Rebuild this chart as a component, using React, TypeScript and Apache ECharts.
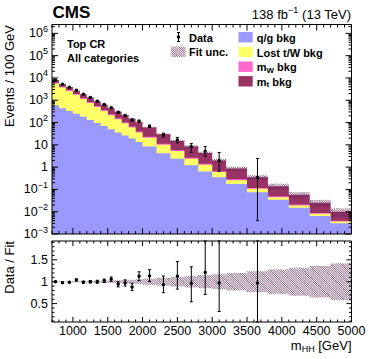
import React, { useEffect, useRef } from "react";
import * as echarts from "echarts";

// ---------------- data ----------------
const binEdges = [700, 800, 900, 1000, 1100, 1200, 1300, 1400, 1500, 1600, 1700, 1800, 1900, 2000, 2200, 2400, 2600, 2800, 3000, 3200, 3500, 3800, 4100, 4400, 4700, 5000];
const qgBkg = [600, 440, 330, 245, 180, 130, 95, 70, 50, 36, 26, 19, 13.5, 8.5, 4.2, 2.4, 1.2, 0.64, 0.35, 0.175, 0.075, 0.034, 0.015, 0.0065, 0.003];
const lostTWBkg = [5000, 3260, 2270, 1505, 970, 630, 405, 260, 165, 104, 66, 41, 22.5, 12.5, 6.0, 2.9, 1.2, 0.64, 0.25, 0.085, 0.031, 0.011, 0.004, 0.0015, 0.0006];
const mWBkg = [560, 370, 260, 175, 115, 76, 50, 33, 21, 14, 9, 6, 3.6, 2.1, 1.0, 0.53, 0.24, 0.13, 0.06, 0.026, 0.011, 0.0045, 0.0019, 0.0008, 0.00036];
const mtBkg = [1840, 1230, 1040, 775, 615, 484, 360, 267, 204, 151, 111, 82, 63.4, 36.9, 18.4, 8.97, 5.86, 2.89, 1.34, 0.584, 0.233, 0.0905, 0.0361, 0.0162, 0.00604];
const fitUncRel = [0.01, 0.01, 0.012, 0.014, 0.016, 0.018, 0.02, 0.025, 0.03, 0.035, 0.04, 0.045, 0.055, 0.07, 0.09, 0.11, 0.13, 0.15, 0.17, 0.2, 0.24, 0.28, 0.32, 0.36, 0.42];

const dataX = [750, 850, 950, 1050, 1150, 1250, 1350, 1450, 1550, 1650, 1750, 1850, 1950, 2100, 2300, 2500, 2700, 2900, 3100, 3650];
const dataY = [8000, 5190, 3860, 2810, 1860, 1320, 910, 643, 466, 287, 206, 130, 116, 68, 27.5, 16.7, 8.2, 5.2, 1.94, 0.34];
const dataErrUp = [96, 74, 62, 54, 43, 37, 30, 25, 21, 18, 15, 12.6, 10.3, 8.4, 5.9, 4.9, 3.2, 3.2, 2.6, 2.1];
const dataErrDown = [96, 74, 62, 54, 43, 37, 30, 25, 21, 18, 15, 11.8, 10.3, 7.8, 5.3, 4.4, 3.6, 2.15, 1.3, 0.336];

const xTickLabels = [1000, 1500, 2000, 2500, 3000, 3500, 4000, 4500, 5000];
const yTickPowers = [-3, -2, -1, 0, 1, 2, 3, 4, 5, 6];
const ratioTickLabels = [0.5, 1, 1.5];

// ---------------- style ----------------
const FONT = '"Liberation Sans", Arial, Helvetica, sans-serif';
const colQG = "#9999ff";
const colLost = "#ffff66";
const colMW = "#ff66cc";
const colMT = "#993366";
const colHatch = "#5e2354";
const HATCH_GAP = 2.2;
const HATCH_LW = 0.75;

const X_MIN = 700, X_MAX = 5000;
const Y_MIN = 1e-3, Y_MAX = 2.5e6;
const R_MIN = 0.08, R_MAX = 1.93;

function hatchLines(x0: number, y0: number, x1: number, y1: number, s: number, style: any) {
  const out: any[] = [];
  if (x1 - x0 <= 0 || y1 - y0 <= 0) return out;
  const cStart = Math.ceil((y0 - x1) / s) * s;
  for (let c = cStart; c <= y1 - x0; c += s) {
    const xa = Math.max(x0, y0 - c);
    const xb = Math.min(x1, y1 - c);
    if (xb > xa) out.push({ type: "line", shape: { x1: xa, y1: xa + c, x2: xb, y2: xb + c }, style });
  }
  return out;
}

function txt(text: string, x: number, y: number, opts: any = {}) {
  const align = opts.align || "left";
  const va = opts.verticalAlign || "middle";
  return {
    type: "text",
    x,
    y,
    rotation: opts.rotation || 0,
    silent: true,
    style: {
      text,
      fill: "#000",
      fontSize: opts.fontSize || 13,
      fontWeight: opts.fontWeight || "normal",
      fontFamily: FONT,
      align,
      verticalAlign: va,
      textAlign: align,
      textVerticalAlign: va,
      rich: opts.rich,
    },
  };
}

function line(x1: number, y1: number, x2: number, y2: number, lw = 1) {
  return { type: "line", shape: { x1, y1, x2, y2 }, style: { stroke: "#000", lineWidth: lw } };
}

function buildOption() {
  const nB = binEdges.length - 1;
  const cum1 = qgBkg.slice();
  const cum2 = cum1.map((v, i) => v + lostTWBkg[i]);
  const cum3 = cum2.map((v, i) => v + mWBkg[i]);
  const cum4 = cum3.map((v, i) => v + mtBkg[i]);
  const layers = [
    { cum: cum4, color: colMT },
    { cum: cum3, color: colMW },
    { cum: cum2, color: colLost },
    { cum: cum1, color: colQG },
  ];
  const binOf = (x: number) => {
    for (let i = 0; i < nB; i++) if (x >= binEdges[i] && x < binEdges[i + 1]) return i;
    return nB - 1;
  };
  const clampR = (v: number) => Math.max(R_MIN, Math.min(R_MAX, v));
  const hatchStyle = { stroke: colHatch, lineWidth: HATCH_LW };

  const supRich = { sup: { fontSize: 9, fontFamily: FONT, padding: [0, 0, 9, 0] } };
  const subRich = { sub: { fontSize: 8, fontFamily: FONT, fontWeight: "bold", padding: [6, 0, 0, 0] } };
  const subRichN = { sub: { fontSize: 9, fontFamily: FONT, padding: [7, 0, 0, 0] } };

  const stackSeries = {
    type: "custom",
    xAxisIndex: 0,
    yAxisIndex: 0,
    z: 1,
    silent: true,
    data: layers.map((_, k) => [1000, 1, k]),
    renderItem: (params: any, api: any) => {
      const k = api.value(2);
      const layer = layers[k];
      const pts: number[][] = [];
      pts.push(api.coord([binEdges[0], Y_MIN]));
      for (let i = 0; i < nB; i++) {
        pts.push(api.coord([binEdges[i], layer.cum[i]]));
        pts.push(api.coord([binEdges[i + 1], layer.cum[i]]));
      }
      pts.push(api.coord([binEdges[nB], Y_MIN]));
      return { type: "polygon", z2: k, shape: { points: pts }, style: { fill: layer.color } };
    },
  };

  const fitHatchTop = {
    type: "custom",
    xAxisIndex: 0,
    yAxisIndex: 0,
    z: 2,
    silent: true,
    data: [[1000, 1]],
    renderItem: (params: any, api: any) => {
      const children: any[] = [];
      for (let i = 0; i < nB; i++) {
        const t = cum4[i], h = fitUncRel[i];
        const a = api.coord([binEdges[i], t * (1 + h)]);
        const b = api.coord([binEdges[i + 1], t * (1 - h)]);
        children.push(...hatchLines(a[0], a[1], b[0], b[1], HATCH_GAP, hatchStyle));
      }
      return { type: "group", children };
    },
  };

  const pointRender = (params: any, api: any) => {
    const x = api.value(0), y = api.value(1), lo = api.value(2), hi = api.value(3);
    const p = api.coord([x, y]);
    const a = api.coord([x, hi]);
    const b = api.coord([x, lo]);
    return {
      type: "group",
      children: [
        line(p[0], a[1], p[0], b[1]),
        line(p[0] - 1.5, a[1], p[0] + 1.5, a[1]),
        line(p[0] - 1.5, b[1], p[0] + 1.5, b[1]),
        { type: "circle", shape: { cx: p[0], cy: p[1], r: 1.7 }, style: { fill: "#000" } },
      ],
    };
  };

  const dataTop = {
    type: "custom",
    xAxisIndex: 0,
    yAxisIndex: 0,
    z: 3,
    silent: true,
    data: dataX.map((x, i) => [x, dataY[i], Math.max(Y_MIN, dataY[i] - dataErrDown[i]), dataY[i] + dataErrUp[i]]),
    renderItem: pointRender,
  };

  const ratioHatch = {
    type: "custom",
    xAxisIndex: 1,
    yAxisIndex: 1,
    z: 2,
    silent: true,
    data: [[1000, 1]],
    renderItem: (params: any, api: any) => {
      const children: any[] = [];
      for (let i = 0; i < nB; i++) {
        const h = fitUncRel[i];
        const a = api.coord([binEdges[i], 1 + h]);
        const b = api.coord([binEdges[i + 1], 1 - h]);
        children.push(...hatchLines(a[0], a[1], b[0], b[1], HATCH_GAP, hatchStyle));
      }
      return { type: "group", children };
    },
  };

  const dataRatio = {
    type: "custom",
    xAxisIndex: 1,
    yAxisIndex: 1,
    z: 3,
    silent: true,
    data: dataX.map((x, i) => {
      const t = cum4[binOf(x)];
      return [x, clampR(dataY[i] / t), clampR((dataY[i] - dataErrDown[i]) / t), clampR((dataY[i] + dataErrUp[i]) / t)];
    }),
    renderItem: pointRender,
  };

  const decorTop = {
    type: "custom",
    xAxisIndex: 0,
    yAxisIndex: 0,
    z: 5,
    silent: true,
    data: [[1000, 1]],
    renderItem: (params: any, api: any) => {
      const cs = params.coordSys;
      const L = cs.x, T = cs.y, R = cs.x + cs.width, B = cs.y + cs.height;
      const ch: any[] = [];
      ch.push({ type: "rect", shape: { x: L, y: T, width: R - L, height: B - T }, style: { fill: "none", stroke: "#000", lineWidth: 1 } });
      for (let v = X_MIN; v <= X_MAX; v += 100) {
        const x = api.coord([v, 1])[0];
        const len = v % 500 === 0 ? 6 : 3;
        ch.push(line(x, B, x, B - len));
        ch.push(line(x, T, x, T + len));
      }
      for (let e = -3; e <= 6; e++) {
        for (let k = 1; k <= 9; k++) {
          const v = k * Math.pow(10, e);
          if (v > Y_MAX) break;
          const y = api.coord([1000, v])[1];
          const len = k === 1 ? 6 : 3;
          ch.push(line(L, y, L + len, y));
          ch.push(line(R, y, R - len, y));
        }
      }
      yTickPowers.forEach((e) => {
        const y = api.coord([1000, Math.pow(10, e)])[1];
        const label = e === 0 ? "1" : e === 1 ? "10" : "10{sup|" + (e < 0 ? "\u2212" + -e : e) + "}";
        ch.push(txt(label, L - 4, y, { align: "right", fontSize: 12.5, rich: supRich }));
      });
      return { type: "group", children: ch };
    },
  };

  const decorRatio = {
    type: "custom",
    xAxisIndex: 1,
    yAxisIndex: 1,
    z: 5,
    silent: true,
    data: [[1000, 1]],
    renderItem: (params: any, api: any) => {
      const cs = params.coordSys;
      const L = cs.x, T = cs.y, R = cs.x + cs.width, B = cs.y + cs.height;
      const ch: any[] = [];
      ch.push({ type: "rect", shape: { x: L, y: T, width: R - L, height: B - T }, style: { fill: "none", stroke: "#000", lineWidth: 1 } });
      for (let v = X_MIN; v <= X_MAX; v += 100) {
        const x = api.coord([v, 1])[0];
        const len = v % 500 === 0 ? 5 : 2.5;
        ch.push(line(x, B, x, B - len));
        ch.push(line(x, T, x, T + len));
      }
      for (let j = 1; j <= 19; j++) {
        const y = api.coord([1000, j / 10])[1];
        const len = j % 5 === 0 ? 5 : 2.5;
        ch.push(line(L, y, L + len, y));
        ch.push(line(R, y, R - len, y));
      }
      ratioTickLabels.forEach((v) => {
        const y = api.coord([1000, v])[1];
        ch.push(txt(String(v), L - 4, y, { align: "right", fontSize: 12.5 }));
      });
      xTickLabels.forEach((v) => {
        const x = api.coord([v, 1])[0];
        ch.push(txt(String(v), x, B + 8.5, { align: "center", fontSize: 12.5 }));
      });
      return { type: "group", children: ch };
    },
  };

  // legend & titles
  const g: any[] = [];
  g.push(txt("CMS", 52.5, 12.5, { fontSize: 17, fontWeight: "bold" }));
  g.push(txt("138 fb{sup|\u22121} (13 TeV)", 351, 14.5, { align: "right", fontSize: 13, rich: supRich }));
  g.push(txt("Events / 100 GeV", 9, 25, { align: "right", fontSize: 13, rotation: Math.PI / 2 }));
  g.push(txt("Data / Fit", 9, 241, { align: "right", fontSize: 13, rotation: Math.PI / 2 }));
  g.push(txt("m{sub|HH} [GeV]", 351.5, 345, { align: "right", fontSize: 13, rich: subRichN }));
  g.push(txt("Top CR", 67, 44, { fontSize: 11, fontWeight: "bold" }));
  g.push(txt("All categories", 67, 57.5, { fontSize: 11, fontWeight: "bold" }));
  // Data legend icon
  g.push(line(178.5, 32.5, 178.5, 41.5));
  g.push(line(177, 32.5, 180, 32.5));
  g.push(line(177, 41.5, 180, 41.5));
  g.push({ type: "circle", shape: { cx: 178.5, cy: 37, r: 1.7 }, style: { fill: "#000" } });
  g.push(txt("Data", 189, 37.5, { fontSize: 11, fontWeight: "bold" }));
  // Fit unc legend icon
  g.push(...hatchLines(171, 46.5, 185.5, 57, HATCH_GAP, { stroke: colHatch, lineWidth: HATCH_LW }));
  g.push(txt("Fit unc.", 189, 52, { fontSize: 11, fontWeight: "bold" }));
  const boxes = [
    { color: colQG, label: "q/g bkg", y: 37.2 },
    { color: colLost, label: "Lost t/W bkg", y: 52 },
    { color: colMW, label: "m{sub|W} bkg", y: 66.7 },
    { color: colMT, label: "m{sub|t} bkg", y: 81.3 },
  ];
  boxes.forEach((b) => {
    g.push({ type: "rect", shape: { x: 238.5, y: b.y - 5.2, width: 14.2, height: 10.4 }, style: { fill: b.color } });
    g.push(txt(b.label, 256.7, b.y + 0.5, { fontSize: 11, fontWeight: "bold", rich: subRich }));
  });

  return {
    animation: false,
    backgroundColor: "#fff",
    grid: [
      { left: 52, top: 24.5, width: 299.5, height: 209.5, show: false },
      { left: 52, top: 241, width: 299.5, height: 81, show: false },
    ],
    xAxis: [
      { type: "value", gridIndex: 0, min: X_MIN, max: X_MAX, show: false },
      { type: "value", gridIndex: 1, min: X_MIN, max: X_MAX, show: false },
    ],
    yAxis: [
      { type: "log", logBase: 10, gridIndex: 0, min: Y_MIN, max: Y_MAX, show: false },
      { type: "value", gridIndex: 1, min: R_MIN, max: R_MAX, show: false },
    ],
    series: [stackSeries, fitHatchTop, dataTop, ratioHatch, dataRatio, decorTop, decorRatio],
    graphic: { elements: g },
  };
}

export default function App() {
  const ref = useRef<HTMLDivElement>(null);
  useEffect(() => {
    const chart = echarts.init(ref.current as HTMLDivElement, undefined, { renderer: "svg" });
    chart.setOption(buildOption() as any);
    return () => chart.dispose();
  }, []);
  return <div ref={ref} style={{ position: "fixed", left: 0, top: 0, width: 374, height: 359, background: "#fff" }} />;
}
